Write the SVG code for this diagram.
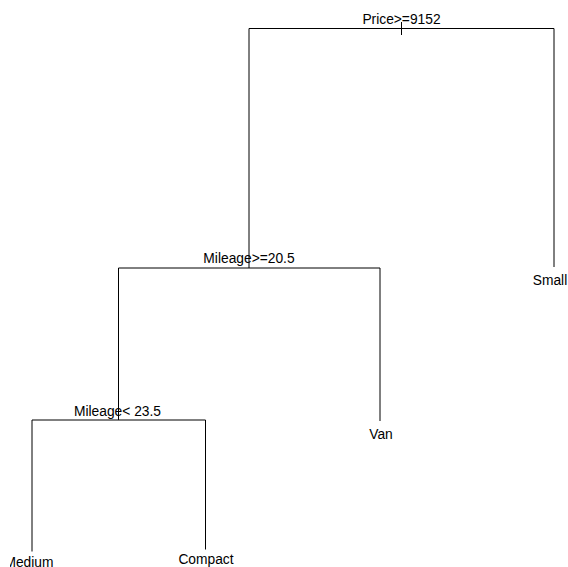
<svg xmlns="http://www.w3.org/2000/svg" width="568" height="567" viewBox="0 0 568 567">
<style>
.e{stroke:#000;stroke-width:1;fill:none}
text{font-family:"Liberation Sans",Arial,sans-serif;font-size:13.8px;fill:#000;text-anchor:middle}
</style>
<defs><clipPath id="clip"><rect x="10" y="0" width="558" height="567"/></clipPath></defs>
<rect width="568" height="567" fill="#fff"/>
<g id="connectors">
<path class="e" d="M401.5,22V35"/>
<path class="e" d="M249,268V28.5H554V267"/>
<path class="e" d="M118.5,420V268H380V421"/>
<path class="e" d="M32,551.5V420H205.5V549.5"/>
</g>
<g id="n1"><text x="401.5" y="24">Price&gt;=9152</text></g>
<g id="n2"><text x="249" y="263">Mileage&gt;=20.5</text></g>
<g id="n3"><text x="117.5" y="416">Mileage&lt; 23.5</text></g>
<g id="n4" clip-path="url(#clip)"><text x="29" y="566.5">Medium</text></g>
<g id="n5"><text x="206" y="564">Compact</text></g>
<g id="n6"><text x="381" y="439">Van</text></g>
<g id="n7"><text x="550" y="285">Small</text></g>
</svg>
